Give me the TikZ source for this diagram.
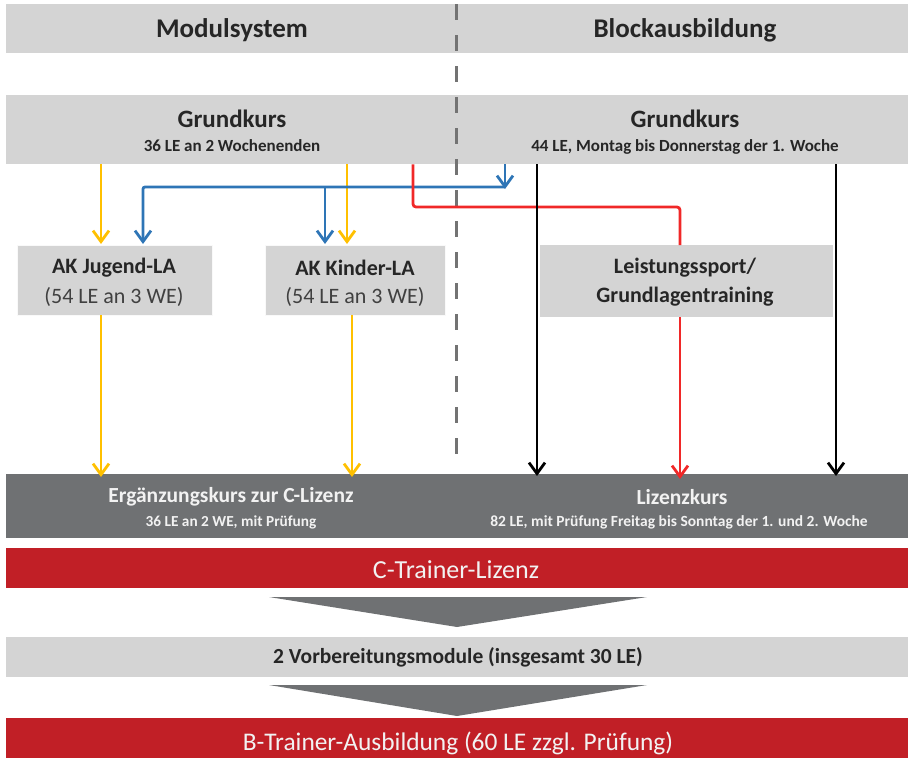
\documentclass[tikz,border=0pt]{standalone}
\usepackage{fontspec}
\setmainfont{Carlito}
\usetikzlibrary{arrows.meta}
\definecolor{lgray}{HTML}{D4D4D4}
\definecolor{dgray}{HTML}{6F7173}
\definecolor{cred}{HTML}{C11F26}
\definecolor{ayel}{HTML}{FFC000}
\definecolor{ablue}{HTML}{2E75B6}
\definecolor{ared}{HTML}{F02828}
\definecolor{txt}{HTML}{262626}
\definecolor{wtxt}{HTML}{F2F2F2}
\begin{document}
\begin{tikzpicture}[x=1pt,y=-1pt,
  band/.style={fill=#1,draw=none,anchor=north west,inner sep=0pt},
  lbl/.style={text=txt,inner sep=0pt,font=\bfseries},
  wlbl/.style={text=wtxt,inner sep=0pt},
  arr/.style={line width=2.8pt,draw=#1,-{Straight Barb[length=11pt,width=16pt,line width=2.8pt]}},
  ln/.style={line width=2.8pt,draw=#1}]
\useasboundingbox (0,0) rectangle (908,758);
% bands
\node[band=lgray,minimum width=902pt,minimum height=49pt] (hdr) at (6,4) {};
\node[band=lgray,minimum width=902pt,minimum height=69pt] (gk) at (6,95) {};
\node[band=lgray,minimum width=195pt,minimum height=70pt,draw=white!95!gray] (jug) at (17,245) {};
\node[band=lgray,minimum width=180pt,minimum height=70pt,draw=white!95!gray] (kin) at (265,245) {};
\node[band=lgray,minimum width=293pt,minimum height=72pt] (ls) at (540,245) {};
\node[band=dgray,minimum width=902pt,minimum height=64pt] (lz) at (6,474) {};
\node[band=cred,minimum width=902pt,minimum height=40pt] (ct) at (6,548) {};
\node[band=lgray,minimum width=902pt,minimum height=40pt] (vb) at (6,637) {};
\node[band=cred,minimum width=902pt,minimum height=40pt] (bt) at (6,718) {};
% dashed divider
\coordinate (dv) at (456,0);
\draw[line width=3pt,draw=gray!90!black,dash pattern=on 16pt off 15pt] (dv |- hdr.north) -- (456,465);
% header texts
\node[lbl,font=\bfseries\fontsize{27}{29}\selectfont] (t1) at (232,30) {Modulsystem};
\node[lbl,font=\bfseries\fontsize{27}{29}\selectfont] (t2) at (685,30) {Blockausbildung};
\node[lbl,font=\bfseries\fontsize{25}{27}\selectfont] (g1) at (232,119) {Grundkurs};
\node[lbl,font=\bfseries\fontsize{17}{19}\selectfont] (g1s) at (232,146) {36 LE an 2 Wochenenden};
\node[lbl,font=\bfseries\fontsize{25}{27}\selectfont] (g2) at (685,119) {Grundkurs};
\node[lbl,font=\bfseries\fontsize{17}{19}\selectfont] (g2s) at (685,147) {44 LE, Montag bis Donnerstag der 1. Woche};
% box texts
\node[lbl,font=\bfseries\fontsize{22}{24}\selectfont] (j1) at (114,268) {AK Jugend-LA};
\node[lbl,font=\fontsize{22}{24}\selectfont,text=black!75] (j2) at (114,297) {(54 LE an 3 WE)};
\node[lbl,font=\bfseries\fontsize{22}{24}\selectfont] (k1) at (355,268) {AK Kinder-LA};
\node[lbl,font=\fontsize{22}{24}\selectfont,text=black!75] (k2) at (355,297) {(54 LE an 3 WE)};
\node[lbl,font=\bfseries\fontsize{22}{24}\selectfont] (l1) at (685,268) {Leistungssport/};
\node[lbl,font=\bfseries\fontsize{22}{24}\selectfont] (l2) at (685,297) {Grundlagentraining};
% lower texts
\node[wlbl,font=\bfseries\fontsize{21.5}{23}\selectfont] (e1) at (231,497) {Ergänzungskurs zur C-Lizenz};
\node[wlbl,font=\bfseries\fontsize{15.3}{17}\selectfont] (e2) at (231,522) {36 LE an 2 WE, mit Prüfung};
\node[wlbl,font=\bfseries\fontsize{21.5}{23}\selectfont] (z1) at (682,497) {Lizenzkurs};
\node[wlbl,font=\bfseries\fontsize{15.5}{17}\selectfont] (z2) at (679,522) {82 LE, mit Prüfung Freitag bis Sonntag der 1. und 2. Woche};
\node[wlbl,font=\fontsize{26}{28}\selectfont] (c1) at (456,570) {C-Trainer-Lizenz};
\node[lbl,font=\bfseries\fontsize{21.5}{23}\selectfont] (v1) at (458,657) {2 Vorbereitungsmodule (insgesamt 30 LE)};
\node[wlbl,font=\fontsize{25.4}{27}\selectfont] (b1) at (458,743) {B-Trainer-Ausbildung (60 LE zzgl. Prüfung)};
% chevrons
\fill[dgray] (269,597) -- (647,597) -- (457,627) -- cycle;
\fill[dgray] (269,685) -- (647,685) -- (457,716) -- cycle;
% connector x positions
\coordinate (xa) at (101,0);
\coordinate (xb) at (347,0);
\coordinate (xc) at (352,0);
\coordinate (xd) at (143,0);
\coordinate (xe) at (325,0);
\coordinate (xf) at (505,0);
\coordinate (xg) at (413,0);
\coordinate (xh) at (680,0);
\coordinate (xi) at (537,0);
\coordinate (xj) at (836,0);
\coordinate (yb) at (0,187);
\coordinate (yr) at (0,207);
% yellow
\draw[arr=ayel] (xa |- gk.south) -- ([yshift=1pt]xa |- jug.north);
\draw[arr=ayel] (xb |- gk.south) -- ([yshift=1pt]xb |- kin.north);
\draw[arr=ayel] (xa |- jug.south) -- ([yshift=-3pt]xa |- lz.north);
\draw[arr=ayel] (xc |- kin.south) -- ([yshift=-3pt]xc |- lz.north);
% blue
\draw[arr=ablue] (xf |- gk.south) -- ([yshift=-2pt]xf |- yb);
\draw[arr=ablue,rounded corners=2pt] (xf |- yb) -- (xd |- yb) -- ([yshift=1pt]xd |- jug.north);
\draw[arr=ablue] (xe |- yb) -- ([yshift=1pt]xe |- kin.north);
% red
\draw[ln=ared,rounded corners=3pt] (xg |- gk.south) -- (xg |- yr) -- (xh |- yr) -- (xh |- ls.north);
\draw[arr=ared] (xh |- ls.south) -- ([yshift=-5pt]xh |- lz.north);
% black
\draw[arr=black] (xi |- gk.south) -- ([yshift=-2pt]xi |- lz.north);
\draw[arr=black] (xj |- gk.south) -- ([yshift=-2pt]xj |- lz.north);
\end{tikzpicture}
\end{document}
